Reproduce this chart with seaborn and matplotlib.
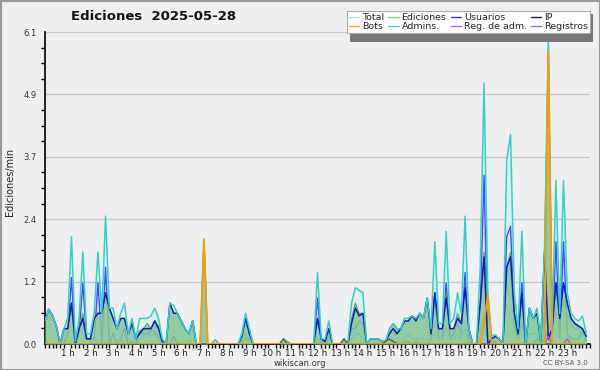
import matplotlib
matplotlib.use("Agg")
import matplotlib.pyplot as plt
from matplotlib.lines import Line2D
from matplotlib.patches import Rectangle
import numpy as np
import pandas as pd
import seaborn as sns

# ---- data (10-minute steps, edits per minute) ----
total = [0.45, 0.68, 0.55, 0.35, 0.0, 0.3,
         0.5, 2.1, 0.05, 0.5, 1.8, 0.2,
         0.2, 0.6, 1.8, 0.6, 2.5, 0.7,
         0.7, 0.3, 0.6, 0.8, 0.2, 0.5,
         0.1, 0.5, 0.5, 0.5, 0.55, 0.7,
         0.5, 0.1, 0.0, 0.8, 0.75, 0.6,
         0.45, 0.3, 0.2, 0.45, 0.0, 0.0,
         2.05, 0.0, 0.0, 0.08, 0.0, 0.0,
         0.0, 0.0, 0.0, 0.0, 0.2, 0.6,
         0.3, 0.0, 0.0, 0.0, 0.0, 0.0,
         0.0, 0.0, 0.0, 0.1, 0.05, 0.0,
         0.0, 0.0, 0.0, 0.0, 0.0, 0.0,
         1.4, 0.1, 0.1, 0.45, 0.0, 0.0,
         0.0, 0.1, 0.0, 0.8, 1.1, 1.05,
         1.0, 0.0, 0.1, 0.1, 0.1, 0.05,
         0.05, 0.3, 0.4, 0.3, 0.3, 0.5,
         0.5, 0.55, 0.5, 0.6, 0.5, 0.9,
         0.3, 2.0, 0.4, 0.4, 2.2, 0.4,
         0.5, 1.0, 0.6, 2.5, 0.3, 0.0,
         0.0, 1.5, 5.1, 1.0, 0.15, 0.18,
         0.1, 0.0, 3.6, 4.1, 1.0, 0.3,
         2.2, 0.0, 0.7, 0.5, 0.7, 0.05,
         1.9, 6.05, 0.4, 3.2, 0.6, 3.2,
         1.0, 0.6, 0.5, 0.45, 0.55, 0.2]

ediciones = [0.45, 0.68, 0.55, 0.35, 0.0, 0.3,
             0.3, 0.8, 0.05, 0.3, 0.6, 0.1,
             0.1, 0.5, 0.6, 0.6, 1.0, 0.7,
             0.5, 0.3, 0.5, 0.5, 0.2, 0.45,
             0.1, 0.25, 0.3, 0.4, 0.3, 0.45,
             0.35, 0.05, 0.0, 0.8, 0.6, 0.6,
             0.45, 0.3, 0.2, 0.45, 0.0, 0.0,
             2.05, 0.0, 0.0, 0.0, 0.0, 0.0,
             0.0, 0.0, 0.0, 0.0, 0.15, 0.5,
             0.2, 0.0, 0.0, 0.0, 0.0, 0.0,
             0.0, 0.0, 0.0, 0.1, 0.05, 0.0,
             0.0, 0.0, 0.0, 0.0, 0.0, 0.0,
             0.5, 0.1, 0.05, 0.3, 0.0, 0.0,
             0.0, 0.1, 0.0, 0.5, 0.8, 0.6,
             0.6, 0.0, 0.1, 0.1, 0.1, 0.05,
             0.05, 0.3, 0.4, 0.3, 0.3, 0.45,
             0.45, 0.55, 0.45, 0.6, 0.5, 0.9,
             0.2, 1.0, 0.3, 0.3, 1.0, 0.3,
             0.3, 0.6, 0.4, 1.1, 0.3, 0.0,
             0.0, 0.8, 1.8, 0.95, 0.1, 0.15,
             0.1, 0.0, 1.5, 1.8, 0.6, 0.2,
             1.0, 0.0, 0.7, 0.5, 0.6, 0.05,
             1.9, 5.8, 0.3, 1.2, 0.5, 1.2,
             0.8, 0.5, 0.4, 0.35, 0.3, 0.15]

usuarios = [0.45, 0.68, 0.55, 0.35, 0.0, 0.3,
            0.3, 0.8, 0.0, 0.3, 0.5, 0.1,
            0.1, 0.5, 0.6, 0.6, 1.0, 0.7,
            0.5, 0.3, 0.5, 0.5, 0.2, 0.4,
            0.1, 0.2, 0.3, 0.3, 0.3, 0.45,
            0.3, 0.05, 0.0, 0.8, 0.6, 0.6,
            0.45, 0.3, 0.2, 0.45, 0.0, 0.0,
            0.0, 0.0, 0.0, 0.0, 0.0, 0.0,
            0.0, 0.0, 0.0, 0.0, 0.15, 0.5,
            0.2, 0.0, 0.0, 0.0, 0.0, 0.0,
            0.0, 0.0, 0.0, 0.0, 0.0, 0.0,
            0.0, 0.0, 0.0, 0.0, 0.0, 0.0,
            0.5, 0.1, 0.05, 0.3, 0.0, 0.0,
            0.0, 0.0, 0.0, 0.4, 0.7, 0.55,
            0.6, 0.0, 0.1, 0.1, 0.1, 0.05,
            0.05, 0.2, 0.3, 0.2, 0.3, 0.45,
            0.45, 0.55, 0.45, 0.6, 0.5, 0.9,
            0.2, 1.0, 0.3, 0.3, 0.9, 0.3,
            0.3, 0.5, 0.4, 1.1, 0.3, 0.0,
            0.0, 0.8, 1.7, 0.0, 0.1, 0.15,
            0.1, 0.0, 1.5, 1.7, 0.6, 0.2,
            1.0, 0.0, 0.7, 0.5, 0.6, 0.05,
            1.8, 0.1, 0.3, 1.2, 0.5, 1.2,
            0.8, 0.5, 0.4, 0.35, 0.3, 0.15]

registros = [0.0, 0.0, 0.0, 0.0, 0.0, 0.0,
             0.2, 1.3, 0.0, 0.2, 1.2, 0.1,
             0.1, 0.1, 1.2, 0.0, 1.5, 0.0,
             0.2, 0.0, 0.1, 0.3, 0.0, 0.05,
             0.0, 0.25, 0.2, 0.2, 0.25, 0.25,
             0.15, 0.05, 0.0, 0.0, 0.15, 0.0,
             0.0, 0.0, 0.0, 0.0, 0.0, 0.0,
             0.0, 0.0, 0.0, 0.08, 0.0, 0.0,
             0.0, 0.0, 0.0, 0.0, 0.05, 0.1,
             0.1, 0.0, 0.0, 0.0, 0.0, 0.0,
             0.0, 0.0, 0.0, 0.0, 0.0, 0.0,
             0.0, 0.0, 0.0, 0.0, 0.0, 0.0,
             0.9, 0.0, 0.05, 0.15, 0.0, 0.0,
             0.0, 0.0, 0.0, 0.3, 0.3, 0.45,
             0.4, 0.0, 0.0, 0.0, 0.0, 0.0,
             0.0, 0.0, 0.0, 0.05, 0.0, 0.05,
             0.05, 0.0, 0.05, 0.0, 0.0, 0.0,
             0.1, 1.0, 0.1, 0.1, 1.2, 0.1,
             0.2, 0.4, 0.2, 1.4, 0.0, 0.0,
             0.0, 0.7, 3.3, 0.05, 0.05, 0.03,
             0.0, 0.0, 2.1, 2.3, 0.4, 0.1,
             1.2, 0.0, 0.0, 0.0, 0.1, 0.0,
             0.1, 0.25, 0.1, 2.0, 0.1, 2.0,
             0.2, 0.1, 0.1, 0.1, 0.25, 0.05]

admins = [0.1, 0.0, 0.0, 0.0, 0.0, 0.0,
          0.0, 0.0, 0.0, 0.0, 0.0, 0.0,
          0.0, 0.1, 0.0, 0.0, 0.0, 0.0,
          0.0, 0.0, 0.1, 0.0, 0.0, 0.0,
          0.0, 0.1, 0.15, 0.2, 0.15, 0.2,
          0.1, 0.0, 0.0, 0.0, 0.0, 0.0,
          0.0, 0.0, 0.0, 0.1, 0.0, 0.0,
          0.0, 0.0, 0.0, 0.0, 0.0, 0.0,
          0.0, 0.0, 0.0, 0.0, 0.1, 0.2,
          0.0, 0.0, 0.0, 0.0, 0.0, 0.0,
          0.0, 0.0, 0.0, 0.0, 0.0, 0.0,
          0.0, 0.0, 0.0, 0.0, 0.0, 0.0,
          0.1, 0.0, 0.0, 0.1, 0.0, 0.0,
          0.0, 0.0, 0.0, 0.1, 0.2, 0.2,
          0.1, 0.0, 0.0, 0.0, 0.0, 0.0,
          0.0, 0.0, 0.1, 0.0, 0.0, 0.1,
          0.2, 0.1, 0.1, 0.1, 0.1, 0.1,
          0.1, 0.2, 0.1, 0.1, 0.3, 0.1,
          0.1, 0.2, 0.1, 0.3, 0.0, 0.0,
          0.0, 0.2, 0.6, 0.1, 0.0, 0.0,
          0.0, 0.0, 1.4, 1.5, 0.3, 0.1,
          0.4, 0.0, 0.2, 0.2, 0.2, 0.0,
          0.6, 0.3, 0.4, 0.6, 0.7, 0.8,
          0.6, 0.4, 0.3, 0.3, 0.2, 0.1]

bots = [0.0] * 42 + [2.05] + [0.0] * 73 + [0.4, 0.95] + [0.0] * 15 + [5.72] + [0.0] * 10

ip = [0.0] * 63 + [0.1] + [0.0] * 15 + [0.1] + [0.0] * 10 + [0.05, 0.1, 0.05] + [0.0] * 51

reg_adm = [0.0] * 133 + [0.15] + [0.0] * 4 + [0.1] + [0.0] * 5

hours = [i / 6 for i in range(len(total))]

hour_ticks = list(range(1, 24))
hour_labels = [f"{h} h" for h in hour_ticks]
y_max = 6.1
y_ticks = [0.0, 1.22, 2.44, 3.66, 4.88, 6.1]
y_labels = ["0.0", "1.2", "2.4", "3.7", "4.9", "6.1"]

df = pd.DataFrame({"hora": hours, "Total": total, "Ediciones": ediciones,
                   "Usuarios": usuarios, "Registros": registros,
                   "Admins.": admins, "Bots": bots, "IP": ip,
                   "Reg. de adm.": reg_adm})

# ---- styling ----
sns.set_theme(style="white")
plt.rcParams['font.family'] = ['DejaVu Sans']
bg = "#eeeff0"

fig = plt.figure(figsize=(6.0, 3.7), dpi=100, facecolor=bg)
ax = fig.add_axes([45 / 600, 26 / 370, 545 / 600, 312 / 370])
ax.set_facecolor(bg)

# fills and lines
ax.fill_between(df["hora"], df["Total"], color="#d8f1ec", alpha=1.0, lw=0, zorder=1)
sns.lineplot(data=df, x="hora", y="Registros", color="#4848ff", lw=1.0, ax=ax, zorder=2, legend=False)
sns.lineplot(data=df, x="hora", y="Admins.", color="#3cc8d8", lw=1.0, ax=ax, zorder=2, legend=False)
ax.fill_between(df["hora"], df["Ediciones"], color="#86c792", alpha=0.85, lw=0, zorder=3)
sns.lineplot(data=df, x="hora", y="Ediciones", color="#4fa84f", lw=0.8, ax=ax, zorder=3, legend=False)
sns.lineplot(data=df, x="hora", y="Usuarios", color="#1818c8", lw=1.1, ax=ax, zorder=4, legend=False)
sns.lineplot(data=df, x="hora", y="Total", color="#33d0c8", lw=1.1, ax=ax, zorder=4, legend=False)
sns.lineplot(data=df, x="hora", y="IP", color="#555555", lw=0.9, ax=ax, zorder=5, legend=False)
sns.lineplot(data=df, x="hora", y="Reg. de adm.", color="#cc44cc", lw=0.9, ax=ax, zorder=5, legend=False)
sns.lineplot(data=df, x="hora", y="Bots", color="#ff9900", lw=1.3, ax=ax, zorder=6, legend=False)

ax.set_xlim(0, 24)
ax.set_ylim(0, y_max)
ax.set_xlabel("")
ax.set_ylabel("")

ax.set_yticks(y_ticks)
ax.set_yticklabels(y_labels, fontsize=6, color="#333333")
ax.set_yticks(np.arange(0, y_max + 0.01, y_max / 20), minor=True)
ax.set_xticks(hour_ticks)
ax.set_xticklabels(hour_labels, fontsize=6.2, color="#222222")
ax.set_xticks(np.arange(0, 24.01, 1 / 6), minor=True)
ax.tick_params(axis="y", which="major", length=5, width=1, color="black", direction="out", pad=1)
ax.tick_params(axis="y", which="minor", length=3, width=1, color="black", direction="out", left=True)
ax.tick_params(axis="x", which="major", length=3, width=1, color="black", direction="out", pad=0.5)
ax.tick_params(axis="x", which="minor", length=3, width=1, color="black", direction="out", bottom=True)

ax.grid(axis="y", which="major", color="#c8c8c8", lw=1, zorder=0)
ax.set_axisbelow(True)
for s in ["top", "right"]:
    ax.spines[s].set_visible(False)
for s in ["left", "bottom"]:
    ax.spines[s].set_color("black")
    ax.spines[s].set_linewidth(1.2)

# texts
fig.text(154 / 600, 1 - 17 / 370, "Ediciones  2025-05-28", fontsize=9.5, fontweight="bold",
         ha="center", va="center", color="#111111")
fig.text(10 / 600, 188 / 370, "Ediciones/min", fontsize=7, rotation=90,
         ha="center", va="center", color="#222222")
fig.text(300 / 600, 1 - 363 / 370, "wikiscan.org", fontsize=6, ha="center", va="center",
         color="#333333")
fig.text(588 / 600, 1 - 363 / 370, "CC BY-SA 3.0", fontsize=5, ha="right", va="center",
         color="#555555")

# legend
handles = [
    Line2D([], [], color="#aee8e8", lw=1), Line2D([], [], color="#ff9922", lw=1),
    Line2D([], [], color="#88cc88", lw=1), Line2D([], [], color="#44ccdd", lw=1),
    Line2D([], [], color="#3333dd", lw=1), Line2D([], [], color="#cc55cc", lw=1),
    Line2D([], [], color="#222222", lw=1), Line2D([], [], color="#7777ff", lw=1),
]
labels = ["Total", "Bots", "Ediciones", "Admins.", "Usuarios", "Reg. de adm.", "IP", "Registros"]
# shadow
fig.patches.append(Rectangle((350 / 600, 1 - 42 / 370), 243 / 600, 28 / 370,
                             transform=fig.transFigure, facecolor="#777777",
                             edgecolor="none", zorder=9))
leg = fig.legend(handles, labels, ncol=4, loc="upper left", mode="expand",
                 bbox_to_anchor=(347 / 600, 1 - 39.5 / 370, 243 / 600, 28 / 370),
                 fontsize=6.8, frameon=True, fancybox=False, framealpha=1,
                 handlelength=1.1, handletextpad=0.3, columnspacing=0.2,
                 labelspacing=0.0, borderpad=0.2, borderaxespad=0)
leg.get_frame().set_edgecolor("#aaaaaa")
leg.get_frame().set_linewidth(0.8)
leg.set_zorder(10)

# border
fig.patches.append(Rectangle((0.5 / 600, 0.5 / 370), 599 / 600, 369 / 370,
                             transform=fig.transFigure, facecolor="none",
                             edgecolor="#999999", lw=1.5, zorder=20))

fig.savefig("out.png", dpi=100, facecolor=bg)
